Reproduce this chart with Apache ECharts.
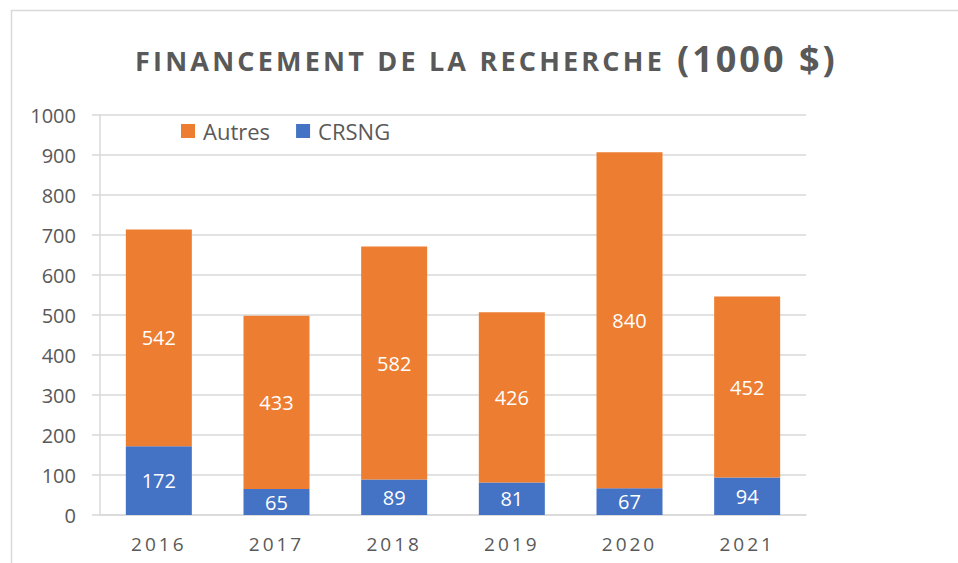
<!DOCTYPE html>
<html>
<head>
<meta charset="utf-8">
<script src="https://cdn.jsdelivr.net/npm/echarts@6/dist/echarts.min.js"></script>
<style>
  html, body { margin: 0; padding: 0; background: #fff; }
  #main { width: 958px; height: 563px; }
</style>
</head>
<body>
<div id="main"></div>
<script>
// données
const annees = ['2016', '2017', '2018', '2019', '2020', '2021']
const crsng = [172, 65, 89, 81, 67, 94]
const autres = [542, 433, 582, 426, 840, 452]
const yTicks = { min: 0, max: 1000, interval: 100 }

const gris = '#595959'
const police = '"Open Sans", "Liberation Sans", sans-serif'

let chart = echarts.init(document.getElementById('main'), null, { renderer: 'svg' })

chart.setOption({
  animation: false,
  color: ['#ED7D31', '#4472C4'],
  graphic: [
    {
      type: 'rect',
      silent: true,
      shape: { x: 11.5, y: 10.5, width: 1000, height: 700 },
      style: { fill: 'none', stroke: '#D9D9D9', lineWidth: 1.5 }
    }
  ],
  title: [
    {
      text: 'FINANCEMENT DE LA RECHERCHE',
      left: 135,
      top: 47,
      padding: 0,
      textStyle: { fontFamily: police, fontSize: 27, fontWeight: 'bold', color: gris }
    },
    {
      text: '(1000 $)',
      left: 677,
      top: 40,
      padding: 0,
      textStyle: { fontFamily: police, fontSize: 36, fontWeight: 'bold', color: gris }
    }
  ],
  legend: {
    data: ['Autres', 'CRSNG'],
    left: 176,
    top: 115,
    icon: 'rect',
    itemWidth: 14,
    itemHeight: 14,
    itemGap: 26,
    textStyle: { fontFamily: police, fontSize: 22, color: gris, padding: [0, 0, 0, 3] }
  },
  grid: { left: 100, right: 152, top: 115, bottom: 48 },
  xAxis: {
    type: 'category',
    data: annees,
    axisLine: { lineStyle: { color: '#D9D9D9', width: 1.5 } },
    axisTick: { show: false },
    axisLabel: { fontFamily: police, fontSize: 19, color: gris, margin: 19 }
  },
  yAxis: {
    type: 'value',
    min: yTicks.min,
    max: yTicks.max,
    interval: yTicks.interval,
    axisLine: { show: true, lineStyle: { color: '#D9D9D9', width: 1.5 } },
    axisTick: { show: true, length: 8, lineStyle: { color: '#D9D9D9', width: 1.5 } },
    splitLine: { lineStyle: { color: '#D9D9D9', width: 1.5 } },
    axisLabel: { fontFamily: police, fontSize: 20, color: gris, margin: 24, formatter: v => String(v) }
  },
  series: [
    {
      name: 'CRSNG',
      type: 'bar',
      stack: 'total',
      barWidth: 66,
      data: crsng,
      itemStyle: { color: '#4472C4' },
      label: { show: true, position: 'inside', color: '#fff', fontFamily: police, fontSize: 20 }
    },
    {
      name: 'Autres',
      type: 'bar',
      stack: 'total',
      barWidth: 66,
      data: autres,
      itemStyle: { color: '#ED7D31' },
      label: { show: true, position: 'inside', color: '#fff', fontFamily: police, fontSize: 20 }
    }
  ]
})

// espacement des lettres (titre et années), comme dans le graphique Excel
function espacer () {
  let textes = document.querySelectorAll('#main svg text')
  textes.forEach(t => {
    let s = t.textContent
    if (s === 'FINANCEMENT DE LA RECHERCHE') t.setAttribute('letter-spacing', '3.2')
    else if (s === '(1000 $)') t.setAttribute('letter-spacing', '3')
    else if (annees.indexOf(s) >= 0) t.setAttribute('letter-spacing', '3')
  })
}
chart.on('finished', espacer)
setTimeout(espacer, 50)
</script>
</body>
</html>
